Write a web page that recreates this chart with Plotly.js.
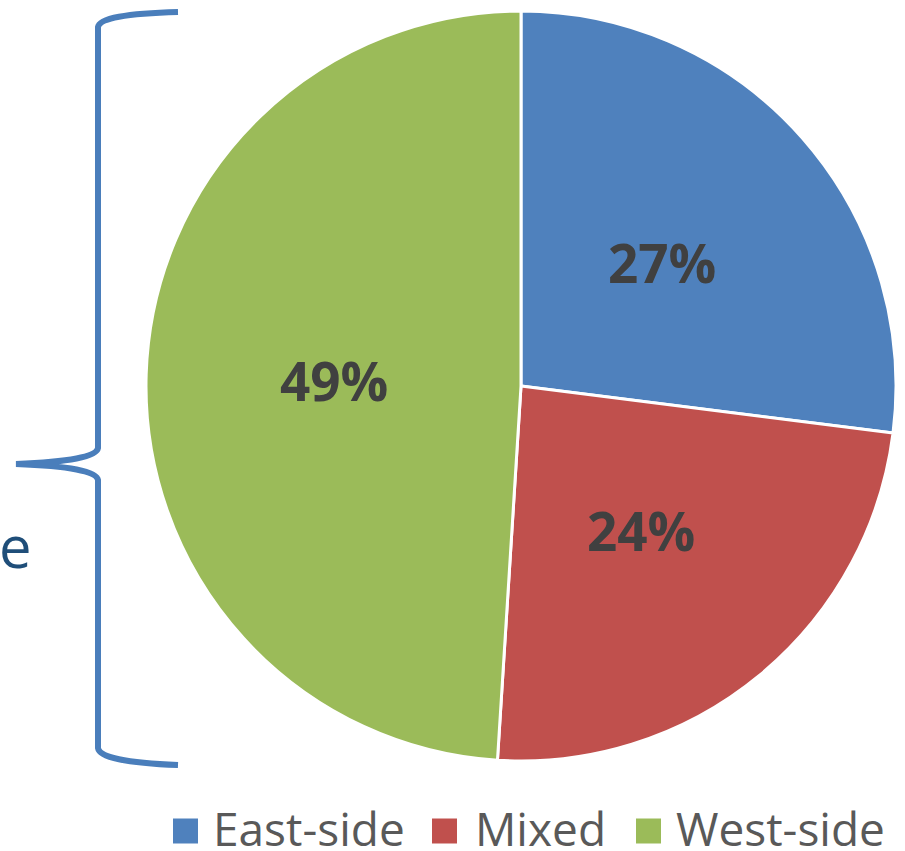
<!DOCTYPE html>
<html>
<head>
<meta charset="utf-8">
<script src="https://cdn.plot.ly/plotly-3.0.1.min.js"></script>
<style>html,body{margin:0;padding:0;background:#fff;}#chart{width:905px;height:851px;}</style>
</head>
<body>
<div id="chart"></div>
<script>
var categories = ["East-side", "Mixed", "West-side"];
var shares = [27, 24, 49];
var sliceColors = ["#4F81BD", "#C0504D", "#9BBB59"];

var W = 905, H = 851;
function px(x) { return x / W; }
function py(y) { return 1 - y / H; }

// pie placement (pixels)
var CX = 521, CY = 386, R = 375;

var trace = {
  type: "pie",
  labels: categories,
  values: shares,
  sort: false,
  direction: "clockwise",
  rotation: 0,
  textinfo: "none",
  marker: {colors: sliceColors, line: {color: "#FFFFFF", width: 3}},
  domain: {x: [px(CX - R), px(CX + R)], y: [py(CY + R), py(CY - R)]},
  hoverinfo: "label+percent",
  showlegend: false
};

// brace decoration (pixel -> paper)
function P(x, y) { return px(x).toFixed(5) + "," + py(y).toFixed(5); }
var bracePath = "M" + P(178, 12) +
  " Q" + P(100, 14) + " " + P(98, 27) +
  " L" + P(98, 448) +
  " Q" + P(96, 461) + " " + P(16, 464) +
  " Q" + P(96, 467) + " " + P(98, 480) +
  " L" + P(98, 748) +
  " Q" + P(100, 762) + " " + P(178, 765);

var shapes = [{
  type: "path", xref: "paper", yref: "paper", path: bracePath,
  line: {color: "#4A7EBB", width: 6}
}];
var annotations = [{
  xref: "paper", yref: "paper", x: px(-3), y: py(545), xanchor: "left", yanchor: "middle",
  text: "e", showarrow: false,
  font: {family: "Open Sans, sans-serif", size: 58, color: "#1F4E79"}
}];

// percentage labels placed along each slice's bisector at half radius
var total = shares.reduce(function (a, b) { return a + b; }, 0);
var cum = 0;
for (var k = 0; k < shares.length; k++) {
  var mid = (cum + shares[k] / 2) / total * 2 * Math.PI;
  cum += shares[k];
  var lx = CX + 0.5 * R * Math.sin(mid);
  var ly = CY - 0.5 * R * Math.cos(mid);
  annotations.push({
    xref: "paper", yref: "paper", x: px(lx), y: py(ly),
    xanchor: "center", yanchor: "middle", showarrow: false,
    text: Math.round(shares[k] / total * 100) + "%",
    font: {family: "Open Sans, sans-serif", size: 53, color: "#404040", weight: "bold"}
  });
}

// custom legend
var legendMarkX = [173, 432, 636];
var legendTextX = [211, 473, 674];
var legendY = 831;
for (var i = 0; i < categories.length; i++) {
  shapes.push({
    type: "rect", xref: "paper", yref: "paper",
    x0: px(legendMarkX[i]), x1: px(legendMarkX[i] + 25),
    y0: py(legendY + 12.5), y1: py(legendY - 12.5),
    fillcolor: sliceColors[i], line: {width: 0}
  });
  annotations.push({
    xref: "paper", yref: "paper", x: px(legendTextX[i]), y: py(legendY - 3),
    xanchor: "left", yanchor: "middle", text: categories[i], showarrow: false,
    font: {family: "Open Sans, sans-serif", size: 46, color: "#595959"}
  });
}

var layout = {
  width: W, height: H,
  margin: {l: 0, r: 0, t: 0, b: 0},
  paper_bgcolor: "#FFFFFF",
  showlegend: false,
  shapes: shapes,
  annotations: annotations
};

Plotly.newPlot("chart", [trace], layout, {displayModeBar: false, staticPlot: true});
</script>
</body>
</html>
